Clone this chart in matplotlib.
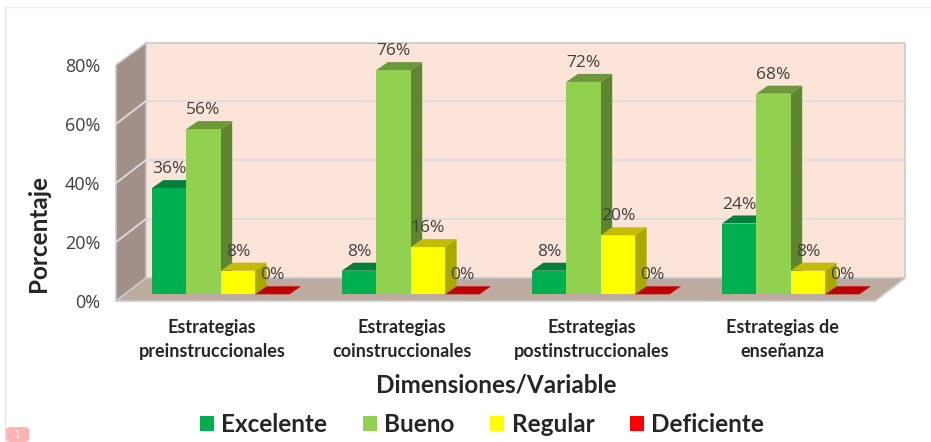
import matplotlib
matplotlib.use("Agg")
import matplotlib.pyplot as plt
from matplotlib.lines import Line2D
from matplotlib.patches import FancyBboxPatch, Polygon

categories = ["Estrategias\npreinstruccionales", "Estrategias\ncoinstruccionales",
              "Estrategias\npostinstruccionales", "Estrategias de\nenseñanza"]
series_names = ["Excelente", "Bueno", "Regular", "Deficiente"]
excelente = [36, 8, 8, 24]
bueno = [56, 76, 72, 68]
regular = [8, 16, 20, 8]
deficiente = [0, 0, 0, 0]
yticks = [0, 20, 40, 60, 80]

front = ["#00b050", "#92d050", "#ffff00", "#ff0000"]
top = ["#00803c", "#6a9a38", "#c4bc00", "#c00000"]
side = ["#007a3a", "#5f8532", "#a8a800", "#a00000"]
values = [excelente, bueno, regular, deficiente]

W, H = 931, 442
PX_U = 190.0      # pixels per category
PX_V = 2.95       # pixels per percent
wall_dx, wall_dy = 30 / PX_U, 23 / PX_V
bar_dx, bar_dy = 11.5 / PX_U, 8 / PX_V
base = 6.7 / PX_V
bw = 34.4 / PX_U
x0 = (116 - 220.7) / PX_U
x1 = (905 - 220.7) / PX_U
ymax = 258 / PX_V
front_right = x1 - wall_dx

fig = plt.figure(figsize=(W / 100, H / 100), dpi=100, facecolor="white")
ax = fig.add_axes([116 / W, (H - 301) / H, 789 / W, 258 / H])
ax.set_xlim(x0, x1)
ax.set_ylim(0, ymax)
for s in ax.spines.values():
    s.set_visible(False)
ax.patch.set_alpha(0)

EDGE = "#c9c9cc"
GRID = "#dcdce2"
# back wall, side wall, floor
ax.add_patch(Polygon([(x0 + wall_dx, wall_dy), (x1, wall_dy), (x1, ymax), (x0 + wall_dx, ymax)],
                     fc="#fde4d8", ec=EDGE, lw=1.2, zorder=1, clip_on=False))
ax.add_patch(Polygon([(x0, 0), (x0 + wall_dx, wall_dy), (x0 + wall_dx, ymax), (x0, 80)],
                     fc="#a09088", ec=EDGE, lw=1.2, zorder=1, clip_on=False))
ax.add_patch(Polygon([(x0, 0), (x0 + wall_dx, wall_dy), (x1, wall_dy), (front_right, 0)],
                     fc="#bdaba0", ec=EDGE, lw=1.2, zorder=1, clip_on=False))
for v in yticks[1:-1]:
    ax.plot([x0, x0 + wall_dx, x1], [v, v + wall_dy, v + wall_dy], color=GRID, lw=1.3, zorder=2,
            clip_on=False)

# bars
handles = []
for g in range(len(categories)):
    for s in range(4):
        left = g - 2 * bw + s * bw
        v = values[s][g]
        b = ax.bar(left, v, bw, bottom=base, align="edge", color=front[s], linewidth=0, zorder=5 + g * 4 + s,
                   label=series_names[s] if g == 0 else None)
        if g == 0:
            handles.append(b)
        t = base + v
        r = left + bw
        ax.add_patch(Polygon([(r, base), (r + bar_dx, base + bar_dy), (r + bar_dx, t + bar_dy), (r, t)],
                             fc=side[s], ec="none", zorder=4.5 + g * 4 + s))
        ax.add_patch(Polygon([(left, t), (left + bar_dx, t + bar_dy), (r + bar_dx, t + bar_dy), (r, t)],
                             fc=top[s], ec="none", zorder=5 + g * 4 + s))
        ax.annotate(f"{v}%", (left + bw / 2, t), xytext=(0, 13.6), textcoords="offset points",
                    ha="center", va="center", fontsize=12.5, color="#404040", zorder=60,
                    family="Open Sans")

FONT = "Lato"
ax.set_yticks(yticks, [f"{v}%" for v in yticks], fontsize=13, color="#404040", family="Open Sans")
ax.set_xticks([g - 8.7 / PX_U for g in range(4)], categories, fontsize=13, fontweight="bold",
              color="#262626", family=FONT, linespacing=1.47)
ax.tick_params(axis="both", length=0)
ax.tick_params(axis="y", pad=11.5)
ax.tick_params(axis="x", pad=13)

fig.text(38 / W, 1 - 234 / H, "Porcentaje", rotation=90, ha="center", va="center", fontsize=17.5,
         fontweight="bold", color="#262626", family=FONT)
fig.text(496 / W, 1 - 385 / H, "Dimensiones/Variable", ha="center", va="center", fontsize=17.5,
         fontweight="bold", color="#262626", family=FONT)
leg = fig.legend(handles=handles, labels=series_names, ncols=4, loc="center", bbox_to_anchor=(482 / W, 1 - 425 / H),
                 frameon=False, handlelength=0.58, handleheight=0.58, handletextpad=0.29, columnspacing=1.48,
                 prop={"family": FONT, "weight": "bold", "size": 17.5})
for t in leg.get_texts():
    t.set_color("#262626")

# page frame and page badge of the source picture
fig.add_artist(Line2D([5 / W, 5 / W], [0, 1 - 7 / H], color="#e4e4e4", lw=1))
fig.add_artist(Line2D([5 / W, 1], [1 - 7 / H, 1 - 7 / H], color="#ececec", lw=1))
fig.add_artist(FancyBboxPatch((6 / W, 0), 23 / W, 15 / H, boxstyle="round,pad=0,rounding_size=0.006",
                              transform=fig.transFigure, fc="#ffb3b3", ec="none"))
fig.text(17 / W, 7 / H, "1", color="white", fontsize=8, ha="center", va="center")

fig.savefig("out.png", dpi=100)
